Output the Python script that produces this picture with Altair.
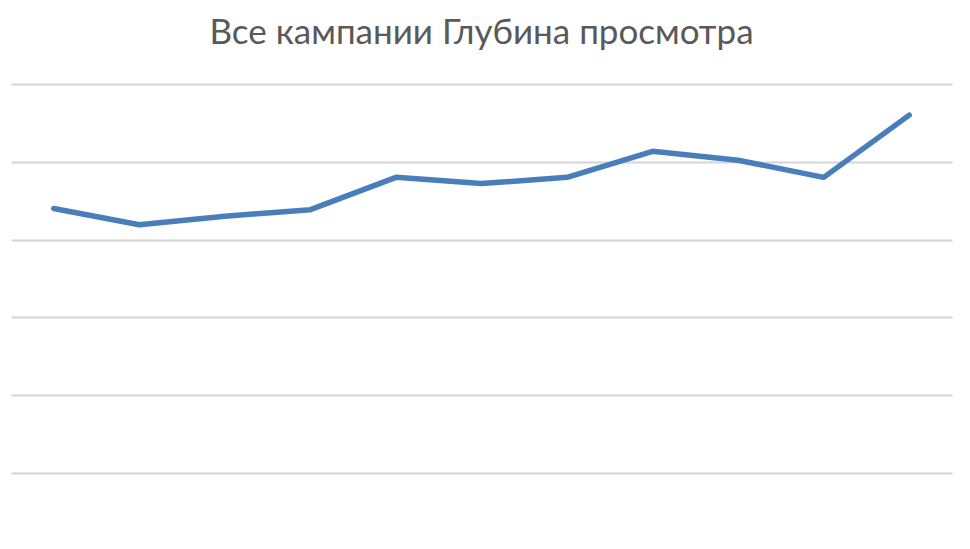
import altair as alt
import pandas as pd

# Периоды (подписи оси не показаны на исходном графике)
periods = list(range(1, 12))
depth = [3.40, 3.19, 3.30, 3.385, 3.80, 3.72, 3.80, 4.135, 4.02, 3.80, 4.60]

df = pd.DataFrame({'period': periods, 'depth': depth})

chart = (alt.Chart(df).mark_line(color='#4a7ebb', strokeWidth=5.5,
                                  strokeCap='round', strokeJoin='round')
         .encode(
             x=alt.X('period:Q', scale=alt.Scale(domain=[0.5, 11.5], nice=False),
                     axis=None),
             y=alt.Y('depth:Q', scale=alt.Scale(domain=[0, 5], nice=False),
                     axis=alt.Axis(values=[0, 1, 2, 3, 4, 5], labels=False,
                                   ticks=False, domain=False, title=None,
                                   gridColor='#d4d4d4', gridWidth=2)))
         .properties(
             width=941, height=389,
             padding={'left': 3, 'top': 8, 'right': 10, 'bottom': 60},
             title=alt.TitleParams(
                 'Все кампании Глубина просмотра', font='Lato',
                 fontSize=35, fontWeight='normal', color='#595959',
                 anchor='middle', offset=33))
         .configure_view(stroke=None))

chart.save('out.html', embed_options={'renderer': 'svg', 'actions': False})
